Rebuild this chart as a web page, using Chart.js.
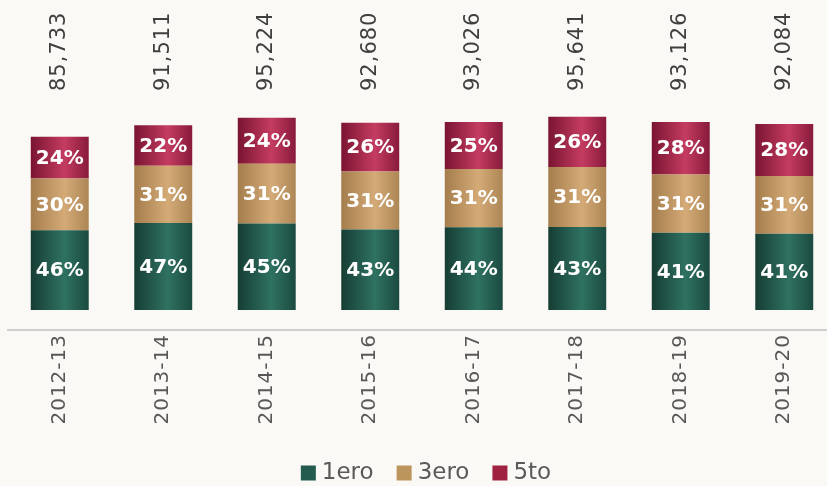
<!DOCTYPE html>
<html>
<head>
<meta charset="utf-8">
<script src="https://cdn.jsdelivr.net/npm/chart.js@4/dist/chart.umd.min.js"></script>
<style>
  html, body { margin: 0; padding: 0; overflow: hidden; background: #fbf9f5; }
  #wrap { width: 836px; height: 486px; }
</style>
</head>
<body>
<div id="wrap"><canvas id="chart" width="836" height="486"></canvas></div>
<script>
  // matrícula por ciclo escolar, reparto 1ero / 3ero / 5to
  const categories = ['2012-13', '2013-14', '2014-15', '2015-16', '2016-17', '2017-18', '2018-19', '2019-20'];
  const totals = [85733, 91511, 95224, 92680, 93026, 95641, 93126, 92084];
  const pct1ero = [46, 47, 45, 43, 44, 43, 41, 41];
  const pct3ero = [30, 31, 31, 31, 31, 31, 31, 31];
  const pct5to = [24, 22, 24, 26, 25, 26, 28, 28];
  const seriesNames = ['1ero', '3ero', '5to'];

  const FONT = '"DejaVu Sans", "Open Sans", sans-serif';
  const BAR_FRACTION = 0.56;

  // left edge, highlight, right edge
  const SHADES = [
    ['#163d34', '#2f7262', '#1b4a40'],
    ['#a57d4c', '#d4ab77', '#ad8655'],
    ['#7a1431', '#c43c61', '#881a3a'],
  ];
  const SOLID = ['#235b4e', '#bc955c', '#9f2241'];

  const share = (pcts) => pcts.map((p, i) => totals[i] * p / 100);
  const fmt = (n) => n.toLocaleString('en-US');

  const barGradient = (idx) => (ctx) => {
    const chart = ctx.chart;
    const x = chart.scales.x;
    if (!chart.chartArea || ctx.dataIndex == null || !x) return SOLID[idx];
    const cx = x.getPixelForValue(ctx.dataIndex);
    const half = (x.width / categories.length) * BAR_FRACTION / 2;
    const g = chart.ctx.createLinearGradient(cx - half, 0, cx + half, 0);
    const [edge, hi, edge2] = SHADES[idx];
    g.addColorStop(0, edge);
    g.addColorStop(0.58, hi);
    g.addColorStop(1, edge2);
    return g;
  };

  const labelsPlugin = {
    id: 'labels',
    afterDatasetsDraw(chart) {
      const { ctx, scales } = chart;
      const pcts = [pct1ero, pct3ero, pct5to];

      // porcentajes dentro de cada segmento
      ctx.save();
      ctx.font = `bold 20px ${FONT}`;
      ctx.fillStyle = '#ffffff';
      ctx.textAlign = 'center';
      ctx.textBaseline = 'middle';
      chart.data.datasets.forEach((ds, di) => {
        chart.getDatasetMeta(di).data.forEach((el, i) => {
          ctx.fillText(`${pcts[di][i]}%`, el.x, (el.y + el.base) / 2 + 1);
        });
      });
      ctx.restore();

      // totales arriba y ciclos abajo, girados
      categories.forEach((cat, i) => {
        const cx = scales.x.getPixelForValue(i);
        ctx.save();
        ctx.translate(cx, 91);
        ctx.rotate(-Math.PI / 2);
        ctx.font = `21px ${FONT}`;
        ctx.letterSpacing = '1px';
        ctx.fillStyle = '#3f3f3f';
        ctx.textAlign = 'left';
        ctx.textBaseline = 'middle';
        ctx.fillText(fmt(totals[i]), 0, 0);
        ctx.restore();

        ctx.save();
        ctx.translate(cx, 334);
        ctx.rotate(-Math.PI / 2);
        ctx.font = `20px ${FONT}`;
        ctx.letterSpacing = '1px';
        ctx.fillStyle = '#585858';
        ctx.textAlign = 'right';
        ctx.textBaseline = 'middle';
        ctx.fillText(cat, 0, 0);
        ctx.restore();
      });

      // leyenda
      ctx.save();
      ctx.font = `23px ${FONT}`;
      ctx.textBaseline = 'middle';
      const box = 15, gap = 6, spacing = 23, y = 473;
      const widths = seriesNames.map((s) => box + gap + ctx.measureText(s).width);
      const total = widths.reduce((a, b) => a + b, 0) + spacing * (widths.length - 1);
      let lx = 426 - total / 2;
      seriesNames.forEach((s, i) => {
        ctx.fillStyle = SOLID[i];
        ctx.fillRect(lx, y - box / 2, box, box);
        ctx.fillStyle = '#5a5a5a';
        ctx.fillText(s, lx + box + gap, y);
        lx += widths[i] + spacing;
      });
      ctx.restore();
    },
  };

  new Chart(document.getElementById('chart'), {
    type: 'bar',
    data: {
      labels: categories,
      datasets: [
        { label: seriesNames[0], data: share(pct1ero), backgroundColor: barGradient(0) },
        { label: seriesNames[1], data: share(pct3ero), backgroundColor: barGradient(1) },
        { label: seriesNames[2], data: share(pct5to), backgroundColor: barGradient(2) },
      ],
    },
    options: {
      responsive: false,
      animation: false,
      devicePixelRatio: 1,
      layout: { padding: { left: 8, right: 0, top: 7, bottom: 148 } },
      datasets: { bar: { categoryPercentage: 1, barPercentage: BAR_FRACTION, borderWidth: 0 } },
      plugins: { legend: { display: false }, tooltip: { enabled: false } },
      scales: {
        x: {
          stacked: true,
          ticks: { display: false },
          grid: { display: false },
          border: { display: true, color: '#cfcfcf', width: 2 },
        },
        y: {
          stacked: true,
          display: false,
          min: -9900,
          max: 150000,
        },
      },
    },
    plugins: [labelsPlugin],
  });
</script>
</body>
</html>
